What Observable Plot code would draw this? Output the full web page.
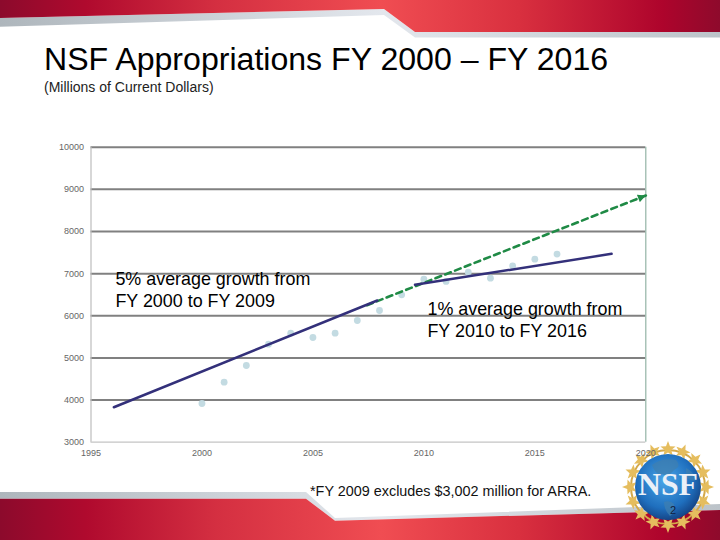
<!DOCTYPE html>
<html>
<head>
<meta charset="utf-8">
<script src="https://cdn.jsdelivr.net/npm/d3@7"></script>
<script src="https://cdn.jsdelivr.net/npm/@observablehq/plot@0.6"></script>
<style>
html,body{margin:0;padding:0;background:#fff;width:720px;height:540px;overflow:hidden}
body{position:relative;font-family:"Liberation Sans",Arial,sans-serif;color:#000}
#bg,#logo,#chart{position:absolute;left:0;top:0}
#chart svg{display:block;background:transparent}
.t{position:absolute;white-space:nowrap;line-height:1}
</style>
</head>
<body>
<svg id="bg" width="720" height="540" viewBox="0 0 720 540">
  <defs>
    <linearGradient id="red" x1="0" x2="1" y1="0" y2="0">
      <stop offset="0" stop-color="#8c0a2c"/>
      <stop offset=".12" stop-color="#b00a2e"/>
      <stop offset=".3" stop-color="#d42f41"/>
      <stop offset=".53" stop-color="#f04d52"/>
      <stop offset=".72" stop-color="#d9303f"/>
      <stop offset=".92" stop-color="#ae042c"/>
      <stop offset="1" stop-color="#8e0a2c"/>
    </linearGradient>
    <linearGradient id="gr1" x1="0" x2="1" y1="0" y2="0">
      <stop offset="0" stop-color="#aeb6bc"/>
      <stop offset=".53" stop-color="#e3e7ed"/>
      <stop offset="1" stop-color="#bcc3c9"/>
    </linearGradient>
  </defs>
  <polygon points="0,18 0,26.7 384,15 415,37.5 720,37.5 720,32 415,32 384,9" fill="url(#gr1)"/>
  <polygon points="0,0 720,0 720,32 415,32 384,9 0,18" fill="url(#red)"/>
  <polygon points="0,492 306,492 335,518 720,504 720,510 335,520.7 306,498.7 0,498.7" fill="url(#gr1)"/>
  <polygon points="0,498.7 306,498.7 335,520.7 720,510 720,540 0,540" fill="url(#red)"/>
</svg>
<svg id="logo" width="720" height="540" viewBox="0 0 720 540"></svg>
<div class="t" style="left:44px;top:43px;font-size:32.1px">NSF Appropriations FY 2000 – FY 2016</div>
<div class="t" style="left:44px;top:80px;font-size:14px;color:#222">(Millions of Current Dollars)</div>
<div class="t" style="left:310px;top:484px;font-size:14.4px;color:#111">*FY 2009 excludes $3,002 million for ARRA.</div>
<div id="chart"></div>
<script>
const years = [2000,2001,2002,2003,2004,2005,2006,2007,2008,2009,2010,2011,2012,2013,2014,2015,2016];
const appropriations = [3918,4424,4820,5326,5586,5484,5586,5888,6125,6497,6868,6814,7035,6892,7184,7344,7463];
const trendEarlyYears = [1996.03,2007.9];
const trendEarlyValues = [3830,6362];
const trendLateYears = [2009.6,2018.46];
const trendLateValues = [6735,7470];
const projectionYears = [2007.44,2020];
const projectionValues = [6251,8854];
const yTicks = [3000,4000,5000,6000,7000,8000,9000,10000];
const xTicks = [1995,2000,2005,2010,2015,2020];
const notes = ["5% average growth from\nFY 2000 to FY 2009","1% average growth from\nFY 2010 to FY 2016"];
const noteYears = [1996.1,2010.16];
const noteValues = [6640,5930];

const pts = years.map((y,i)=>({y,v:appropriations[i]}));
const pairs = (xs,vs)=>xs.map((x,i)=>({x,v:vs[i]}));

function filledArrow(color, context) {
  const doc = context.document;
  const m = doc.createElementNS("http://www.w3.org/2000/svg","marker");
  m.setAttribute("viewBox","-10 -5 10 10");
  m.setAttribute("markerWidth",9);
  m.setAttribute("markerHeight",8);
  m.setAttribute("markerUnits","userSpaceOnUse");
  m.setAttribute("orient","auto");
  const p = doc.createElementNS("http://www.w3.org/2000/svg","path");
  p.setAttribute("d","M-10,-5L0,0L-10,5z");
  p.setAttribute("fill",color);
  p.setAttribute("stroke","none");
  m.appendChild(p);
  return m;
}

const plot = Plot.plot({
  width:720,height:540,
  marginLeft:90.5,marginRight:74.7,marginTop:146.7,marginBottom:98.3,
  style:{background:"transparent",fontFamily:"'Liberation Sans',Arial,sans-serif"},
  x:{domain:[1995,2020]},
  y:{domain:[3000,10000]},
  marks:[
    Plot.ruleY(yTicks.slice(1),{stroke:"#808080",strokeWidth:2}),
    Plot.ruleX([1995],{stroke:"#bdbdbd",strokeWidth:1.2}),
    Plot.ruleX([2020],{stroke:"#93b3a6",strokeWidth:1.2}),
    Plot.ruleY([3000],{stroke:"#c4c4c4",strokeWidth:1.2}),
    Plot.dot(pts,{x:"y",y:"v",r:3.4,fill:"#c3dbe2",stroke:"none"}),
    Plot.line(pairs(projectionYears,projectionValues),
      {x:"x",y:"v",stroke:"#1f8a45",strokeWidth:2.6,strokeDasharray:"6 4.5",markerEnd:filledArrow}),
    Plot.line(pairs(trendEarlyYears,trendEarlyValues),{x:"x",y:"v",stroke:"#33307a",strokeWidth:2.5}),
    Plot.line(pairs(trendLateYears,trendLateValues),{x:"x",y:"v",stroke:"#33307a",strokeWidth:2.5}),
    Plot.axisY({ticks:yTicks,tickSize:0,tickPadding:7,tickFormat:"d",fontSize:9,color:"#666",label:null}),
    Plot.axisX({ticks:xTicks,tickSize:0,tickPadding:7,tickFormat:"d",fontSize:9,color:"#666",label:null}),
    Plot.text(notes,{x:(d,i)=>noteYears[i],y:(d,i)=>noteValues[i],text:d=>d,textAnchor:"start",fontSize:17.9,lineHeight:1.23,fill:"#000"})
  ]
});
document.getElementById("chart").appendChild(plot);

// NSF seal (decoration)
const logo = d3.select("#logo");
const defs = logo.append("defs");
const rg = defs.append("radialGradient").attr("id","globe").attr("cx",.45).attr("cy",.4).attr("r",.65);
rg.append("stop").attr("offset",0).attr("stop-color","#4aa6e8");
rg.append("stop").attr("offset",.65).attr("stop-color","#1f6fbe");
rg.append("stop").attr("offset",1).attr("stop-color","#123a78");
const cx=668,cy=487;
const star=(x,y,R,r,rot)=>d3.range(10).map(i=>{const a=i*Math.PI/5+rot,q=i%2?r:R;return [x+q*Math.cos(a),y+q*Math.sin(a)].join(",")}).join(" ");
logo.append("circle").attr("cx",cx).attr("cy",cy).attr("r",37).attr("fill","none").attr("stroke","#d4a94a").attr("stroke-width",2);
d3.range(16).forEach(i=>{
  const a=i*2*Math.PI/16-Math.PI/2;
  logo.append("polygon").attr("points",star(cx+38*Math.cos(a),cy+38*Math.sin(a),8,3.4,a)).attr("fill","#e5bd5e");
});
logo.append("circle").attr("cx",cx).attr("cy",cy).attr("r",33).attr("fill","url(#globe)");
logo.append("path").attr("d","M652 465 q10 -8 24 -5 q6 6 -2 10 q-6 8 -12 4 q-6 2 -10 -9z M664 502 q6 -2 10 2 q2 8 -4 12 q-6 -6 -6 -14z M686 468 q8 4 10 12 q-6 2 -10 -4z")
  .attr("fill","#3f7fb0").attr("opacity",.75);
logo.append("text").attr("x",cx).attr("y",cy+8).attr("text-anchor","middle")
  .attr("font-family","'Liberation Serif',serif").attr("font-weight","bold").attr("font-size",31).attr("textLength",60).attr("lengthAdjust","spacingAndGlyphs").attr("fill","#eaf0f8").text("NSF");
logo.append("text").attr("x",673).attr("y",514).attr("text-anchor","middle")
  .attr("font-family","'Liberation Sans',sans-serif").attr("font-size",11).attr("fill","#102040").text("2");
</script>
</body>
</html>
